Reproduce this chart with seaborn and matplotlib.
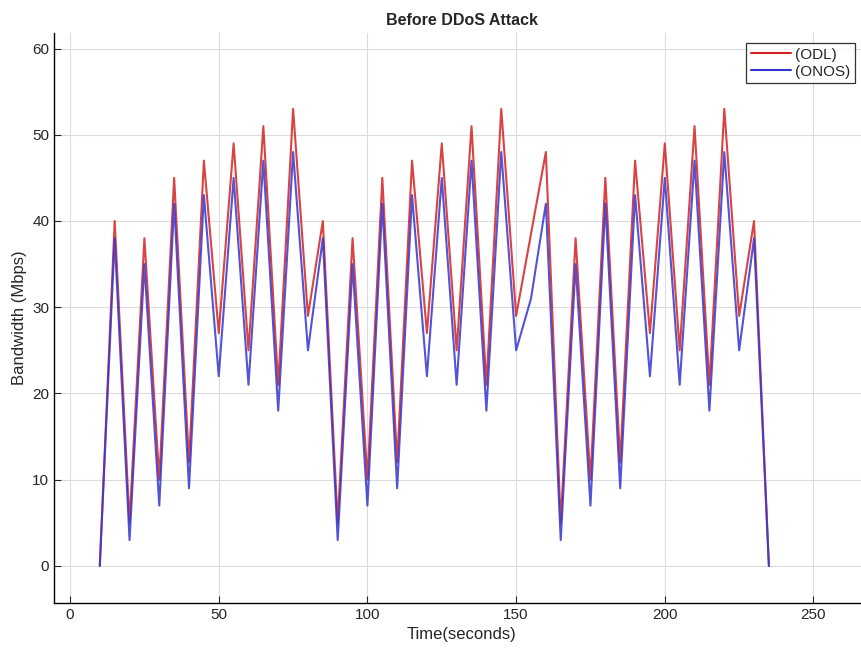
import pandas as pd
import matplotlib
matplotlib.use("Agg")
import matplotlib.pyplot as plt
import seaborn as sns

time_s = list(range(10, 240, 5))
odl = [0, 40, 5, 38, 10, 45, 12, 47, 27, 49, 25, 51, 21, 53, 29, 40,
       5, 38, 10, 45, 12, 47, 27, 49, 25, 51, 21, 53, 29, 38.5, 48,
       5, 38, 10, 45, 12, 47, 27, 49, 25, 51, 21, 53, 29, 40, 0]
onos = [0, 38, 3, 35, 7, 42, 9, 43, 22, 45, 21, 47, 18, 48, 25, 38,
        3, 35, 7, 42, 9, 43, 22, 45, 21, 47, 18, 48, 25, 31, 42,
        3, 35, 7, 42, 9, 43, 22, 45, 21, 47, 18, 48, 25, 38, 0]
series_names = ["(ODL)", "(ONOS)"]
x_ticks = [0, 50, 100, 150, 200, 250]
y_ticks = [0, 10, 20, 30, 40, 50, 60]

df = pd.DataFrame({
    "Time": time_s * 2,
    "Bandwidth": odl + onos,
    "Controller": [series_names[0]] * len(odl) + [series_names[1]] * len(onos),
})

sns.set_style("white")
plt.rcParams["font.family"] = ["Liberation Sans", "DejaVu Sans"]

fig = plt.figure(figsize=(8.62, 6.52), dpi=100)
ax = fig.add_axes([54 / 862, 1 - 603 / 652, (870 - 54) / 862, (603 - 33) / 652])

sns.lineplot(data=df, x="Time", y="Bandwidth", hue="Controller",
             palette={"(ODL)": "#d42222", "(ONOS)": "#3535d0"},
             linewidth=1.5, alpha=0.85, ax=ax, legend=True)

ax.set_xlim(-5.4, 269)
ax.set_ylim(-4.3, 61.8)
ax.set_xticks(x_ticks)
ax.set_yticks(y_ticks)
ax.grid(True, color="#dcdcdc", linewidth=0.8)
ax.set_axisbelow(True)
for s in ["top", "right"]:
    ax.spines[s].set_visible(False)
for s in ["left", "bottom"]:
    ax.spines[s].set_color("black")
    ax.spines[s].set_linewidth(1.0)
ax.tick_params(direction="in", length=5, width=0.8, colors="#262626",
               labelsize=11, left=True, bottom=True)
ax.set_xlabel("Time(seconds)", fontsize=12)
ax.set_ylabel("Bandwidth (Mbps)", fontsize=12)
ax.set_title("Before DDoS Attack", fontsize=11.5, fontweight="bold", pad=6)

leg = ax.legend(loc="upper right", fancybox=False, frameon=True,
                fontsize=11, handlelength=2.6, borderpad=0.3, labelspacing=0.2,
                borderaxespad=0, handletextpad=0.3)
leg.get_frame().set_edgecolor("black")
leg.get_frame().set_linewidth(0.9)
leg.set_bbox_to_anchor((855 / 862, 1 - 43 / 652), transform=fig.transFigure)
for line in leg.get_lines():
    line.set_alpha(1.0)

fig.savefig("out.png", dpi=100)
